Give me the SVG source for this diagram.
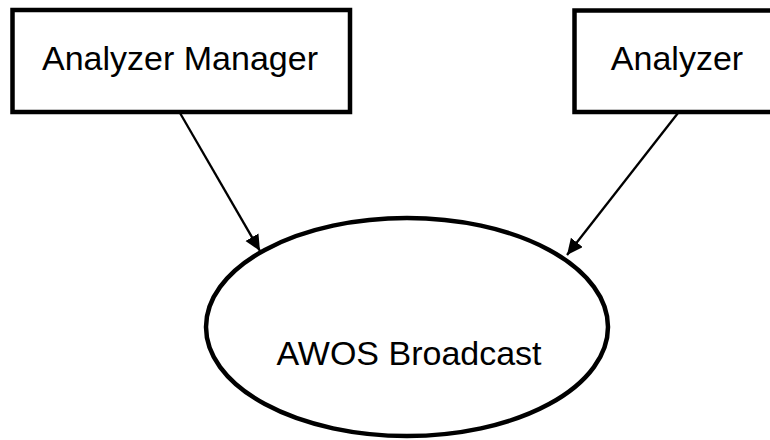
<svg xmlns="http://www.w3.org/2000/svg" width="770" height="440" viewBox="0 0 770 440">
<style>
.box{fill:#fff;stroke:#000;stroke-width:4.5}
.lbl{font-family:"Liberation Sans",Arial,sans-serif;font-size:34px;fill:#000;text-anchor:middle}
.edge{stroke:#000;stroke-width:2.3;fill:none}
</style>
<defs>
<marker id="arr" markerUnits="userSpaceOnUse" markerWidth="18" markerHeight="16" refX="16" refY="7.5" orient="auto">
<path d="M0,0 L16,7.5 L0,15 Z" fill="#000"/>
</marker>
</defs>
<rect width="770" height="440" fill="#fff"/>
<g id="connectors">
<line class="edge" x1="180" y1="113" x2="260" y2="251" marker-end="url(#arr)"/>
<line class="edge" x1="678" y1="113" x2="567" y2="255" marker-end="url(#arr)"/>
</g>
<g id="analyzer-manager">
<rect class="box" x="12.5" y="10" width="337.5" height="102"/>
<text class="lbl" x="180" y="70">Analyzer Manager</text>
</g>
<g id="analyzer">
<rect class="box" x="574.5" y="10.5" width="210" height="101.5"/>
<text class="lbl" x="677" y="70">Analyzer</text>
</g>
<g id="awos-broadcast">
<ellipse class="box" cx="407" cy="327" rx="201" ry="109"/>
<text class="lbl" x="409" y="365">AWOS Broadcast</text>
</g>
</svg>
